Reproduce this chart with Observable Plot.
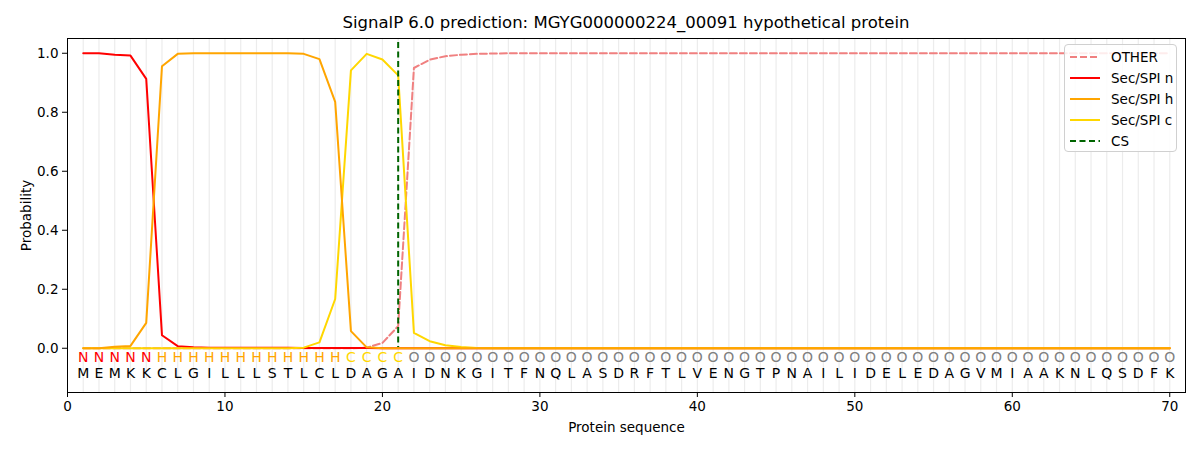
<!DOCTYPE html>
<html>
<head>
<meta charset="utf-8">
<script src="https://cdn.jsdelivr.net/npm/d3@7"></script>
<script src="https://cdn.jsdelivr.net/npm/@observablehq/plot@0.6"></script>
<style>
  body { margin: 0; background: white; font-family: "DejaVu Sans", sans-serif; }
  #wrap { position: relative; width: 1200px; height: 450px; }
  #title { height: 36px; line-height: 18px; padding: 14px 15px 0 67px; box-sizing: border-box; text-align: center; font-size: 16.5px; color: #000; }
  #legend { position: absolute; left: 1064px; top: 44px; width: 113px; height: 108px; border: 1px solid #d0d0d0; border-radius: 4px; background: rgba(255,255,255,0.85); box-sizing: border-box; font-size: 13.5px; }
  .item { position: absolute; left: 4px; height: 20px; display: flex; align-items: center; }
  .item svg { width: 32px; height: 10px; margin-right: 10px; }
</style>
</head>
<body>
<div id="wrap">
  <div id="title">SignalP 6.0 prediction: MGYG000000224_00091 hypothetical protein</div>
  <div id="chart"></div>
  <div id="legend"></div>
</div>
<script>
const sequence = "MEMKKCLGILLLSTLCLDAGAIDNKGITFNQLASDRFTLVENGTPNAILIDELEDAGVMIAAKNLQSDFK".split("");
const regionLabels = "NNNNNHHHHHHHHHHHHCCCCOOOOOOOOOOOOOOOOOOOOOOOOOOOOOOOOOOOOOOOOOOOOOOOOO".split("");
const positions = sequence.map((_, i) => i + 1);

const otherP = [0,0,0,0,0,0,0,0,0,0, 0,0,0,0,0,0,0,0,0.002,0.018,
  0.075,0.95,0.978,0.99,0.995,0.998,0.999,1,1,1, 1,1,1,1,1,1,1,1,1,1,
  1,1,1,1,1,1,1,1,1,1, 1,1,1,1,1,1,1,1,1,1, 1,1,1,1,1,1,1,1,1,1];
const secN = [1,1,0.995,0.992,0.913,0.044,0.007,0.003,0.002,0.002, 0.002,0.002,0.002,0.002,0.001,0.001,0.001,0.001,0.001,0,
  0,0,0,0,0,0,0,0,0,0, 0,0,0,0,0,0,0,0,0,0,
  0,0,0,0,0,0,0,0,0,0, 0,0,0,0,0,0,0,0,0,0, 0,0,0,0,0,0,0,0,0,0];
const secH = [0,0,0.005,0.008,0.086,0.956,0.998,1,1,1, 1,1,1,1,0.998,0.98,0.835,0.058,0.003,0,
  0,0,0,0,0,0,0,0,0,0, 0,0,0,0,0,0,0,0,0,0,
  0,0,0,0,0,0,0,0,0,0, 0,0,0,0,0,0,0,0,0,0, 0,0,0,0,0,0,0,0,0,0];
const secC = [0,0,0,0,0,0,0,0,0,0, 0,0,0,0,0.002,0.02,0.167,0.942,0.998,0.979,
  0.925,0.052,0.024,0.01,0.004,0.001,0,0,0,0, 0,0,0,0,0,0,0,0,0,0,
  0,0,0,0,0,0,0,0,0,0, 0,0,0,0,0,0,0,0,0,0, 0,0,0,0,0,0,0,0,0,0];
const csPosition = [21];
const xTicks = [0, 10, 20, 30, 40, 50, 60, 70];
const yTicks = [0, 0.2, 0.4, 0.6, 0.8, 1.0];

const series = [
  {name: "OTHER", values: otherP, color: "#f08080", dash: "7,3"},
  {name: "Sec/SPI n", values: secN, color: "#ff0000", dash: null},
  {name: "Sec/SPI c", values: secC, color: "#ffd700", dash: null},
  {name: "Sec/SPI h", values: secH, color: "#ffa500", dash: null}
];
const labelColor = {N: "#ff0000", H: "#ffa500", C: "#ffd700", O: "#808080"};

const lineMarks = series.map(s => Plot.line(positions, {
  x: d => d, y: (d, i) => s.values[i],
  stroke: s.color, strokeWidth: 2, strokeDasharray: s.dash || undefined
}));

const chart = Plot.plot({
  width: 1200, height: 414,
  marginLeft: 67, marginRight: 15, marginTop: 2, marginBottom: 58,
  style: {fontFamily: "DejaVu Sans", fontSize: "13.5px", background: "white", color: "black", overflow: "visible"},
  x: {domain: [0, 71], ticks: xTicks, tickFormat: d3.format("d"), label: "Protein sequence", labelAnchor: "center", labelOffset: 39, tickSize: 5, labelArrow: "none"},
  y: {domain: [-0.15, 1.05], ticks: yTicks, tickFormat: d3.format(".1f"), label: "Probability", labelAnchor: "center", labelOffset: 46, tickSize: 5, labelArrow: "none"},
  color: {type: "identity"},
  marks: [
    Plot.ruleX(positions, {x: d => d, stroke: "#ececec", strokeWidth: 1.2}),
    ...lineMarks,
    Plot.ruleX(csPosition, {x: d => d, stroke: "#006400", strokeWidth: 2, strokeDasharray: "6,3.5", insetTop: 4, insetBottom: 45}),
    Plot.text(positions, {x: d => d, text: (d, i) => regionLabels[i], fill: (d, i) => labelColor[regionLabels[i]], frameAnchor: "bottom", dy: -31, fontSize: 14}),
    Plot.text(positions, {x: d => d, text: (d, i) => sequence[i], fill: "black", frameAnchor: "bottom", dy: -15, fontSize: 14}),
    Plot.frame({stroke: "black", strokeWidth: 1})
  ]
});
document.getElementById("chart").appendChild(chart);

const legendItems = [
  {name: "OTHER", color: "#f08080", dash: "7,3"},
  {name: "Sec/SPI n", color: "#ff0000", dash: null},
  {name: "Sec/SPI h", color: "#ffa500", dash: null},
  {name: "Sec/SPI c", color: "#ffd700", dash: null},
  {name: "CS", color: "#006400", dash: "6,3.5"}
];
const legend = document.getElementById("legend");
legendItems.forEach((it, i) => {
  const div = document.createElement("div");
  div.className = "item";
  div.style.top = (2 + i * 21) + "px";
  div.innerHTML = `<svg viewBox="0 0 32 10"><line x1="1" x2="31" y1="5" y2="5" stroke="${it.color}" stroke-width="2" ${it.dash ? `stroke-dasharray="${it.dash}"` : ""}/></svg><span>${it.name}</span>`;
  legend.appendChild(div);
});
</script>
</body>
</html>
